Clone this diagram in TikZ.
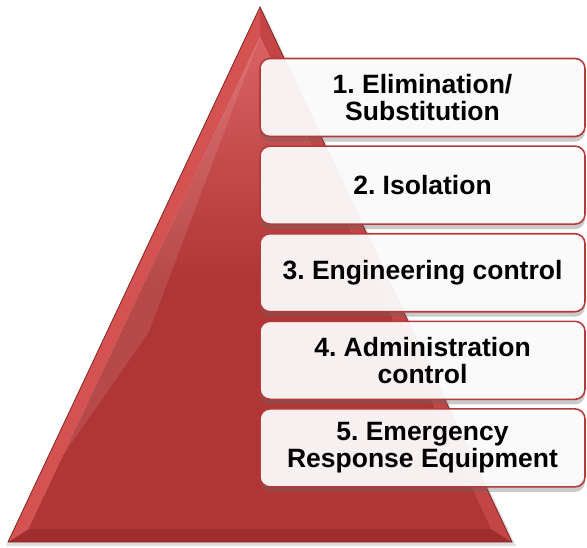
\documentclass[tikz,border=0pt]{standalone}
\usepackage{fontspec}
\setmainfont{Liberation Sans}
\frenchspacing
\usetikzlibrary{positioning, calc, shadows}

\definecolor{pyrred}{HTML}{B03535}
\definecolor{pyrlight}{HTML}{D55252}
\definecolor{pyrside}{HTML}{C44545}
\definecolor{pyrdark}{HTML}{A02E2E}
\definecolor{pyrtop}{HTML}{DA6262}
\definecolor{rimred}{HTML}{B53B3B}

\begin{document}
\begin{tikzpicture}[x=1pt, y=-1pt,
    level/.style={draw=rimred, line width=1.6pt, rounded corners=10pt, fill=white, fill opacity=0.92, text opacity=1,
        minimum width=325pt, minimum height=78pt, align=center, inner sep=2pt,
        font=\bfseries\fontsize{26.5}{27}\selectfont,
        drop shadow={shadow xshift=0pt, shadow yshift=-5pt, opacity=0.35, fill=black!60}},
    facet/.style={draw=none}]
    \useasboundingbox (0,0) rectangle (587,547);
    % pyramid corners and inner bevel
    \coordinate (apex) at (260,7);
    \coordinate (bl) at (8,542);
    \coordinate (br) at (512,542);
    \coordinate (mid) at (260,382);
    \coordinate (iapex) at ($(mid)!0.92!(apex)$);
    \coordinate (ibl) at ($(mid)!0.92!(bl)$);
    \coordinate (ibr) at ($(mid)!0.92!(br)$);
    % shadow
    \fill[black!25, opacity=0.5] ($(apex)+(3,3)$) -- ($(bl)+(-2,4)$) -- ($(br)+(4,4)$) -- cycle;
    % bevel facets
    \fill[pyrlight] (apex) -- (bl) -- (ibl) -- (iapex) -- cycle;
    \fill[pyrside] (apex) -- (br) -- (ibr) -- (iapex) -- cycle;
    \fill[pyrdark] (bl) -- (br) -- (ibr) -- (ibl) -- cycle;
    \shade[top color=pyrtop, bottom color=pyrred, middle color=pyrred] (iapex) -- (ibl) -- (ibr) -- cycle;
    % glossy streak
    \fill[white, opacity=0.1] (iapex) -- ($(iapex)!0.85!(ibl)$) -- ($(iapex)!0.6!($(ibl)!0.1!(ibr)$)$) -- cycle;
    \draw[pyrdark!80!black, line width=0.8pt] (apex) -- (bl) -- (br) -- cycle;
    % levels
    \node[level] (elim) at (422.5,97.5) {1. Elimination/\\Substitution};
    \node[level, below=8pt of elim] (iso) {2. Isolation};
    \node[level, below=8pt of iso] (eng) {3. Engineering control};
    \node[level, below=8pt of eng] (adm) {4. Administration\\control};
    \node[level, below=8pt of adm] (ere) {5. Emergency\\Response Equipment};
\end{tikzpicture}
\end{document}
